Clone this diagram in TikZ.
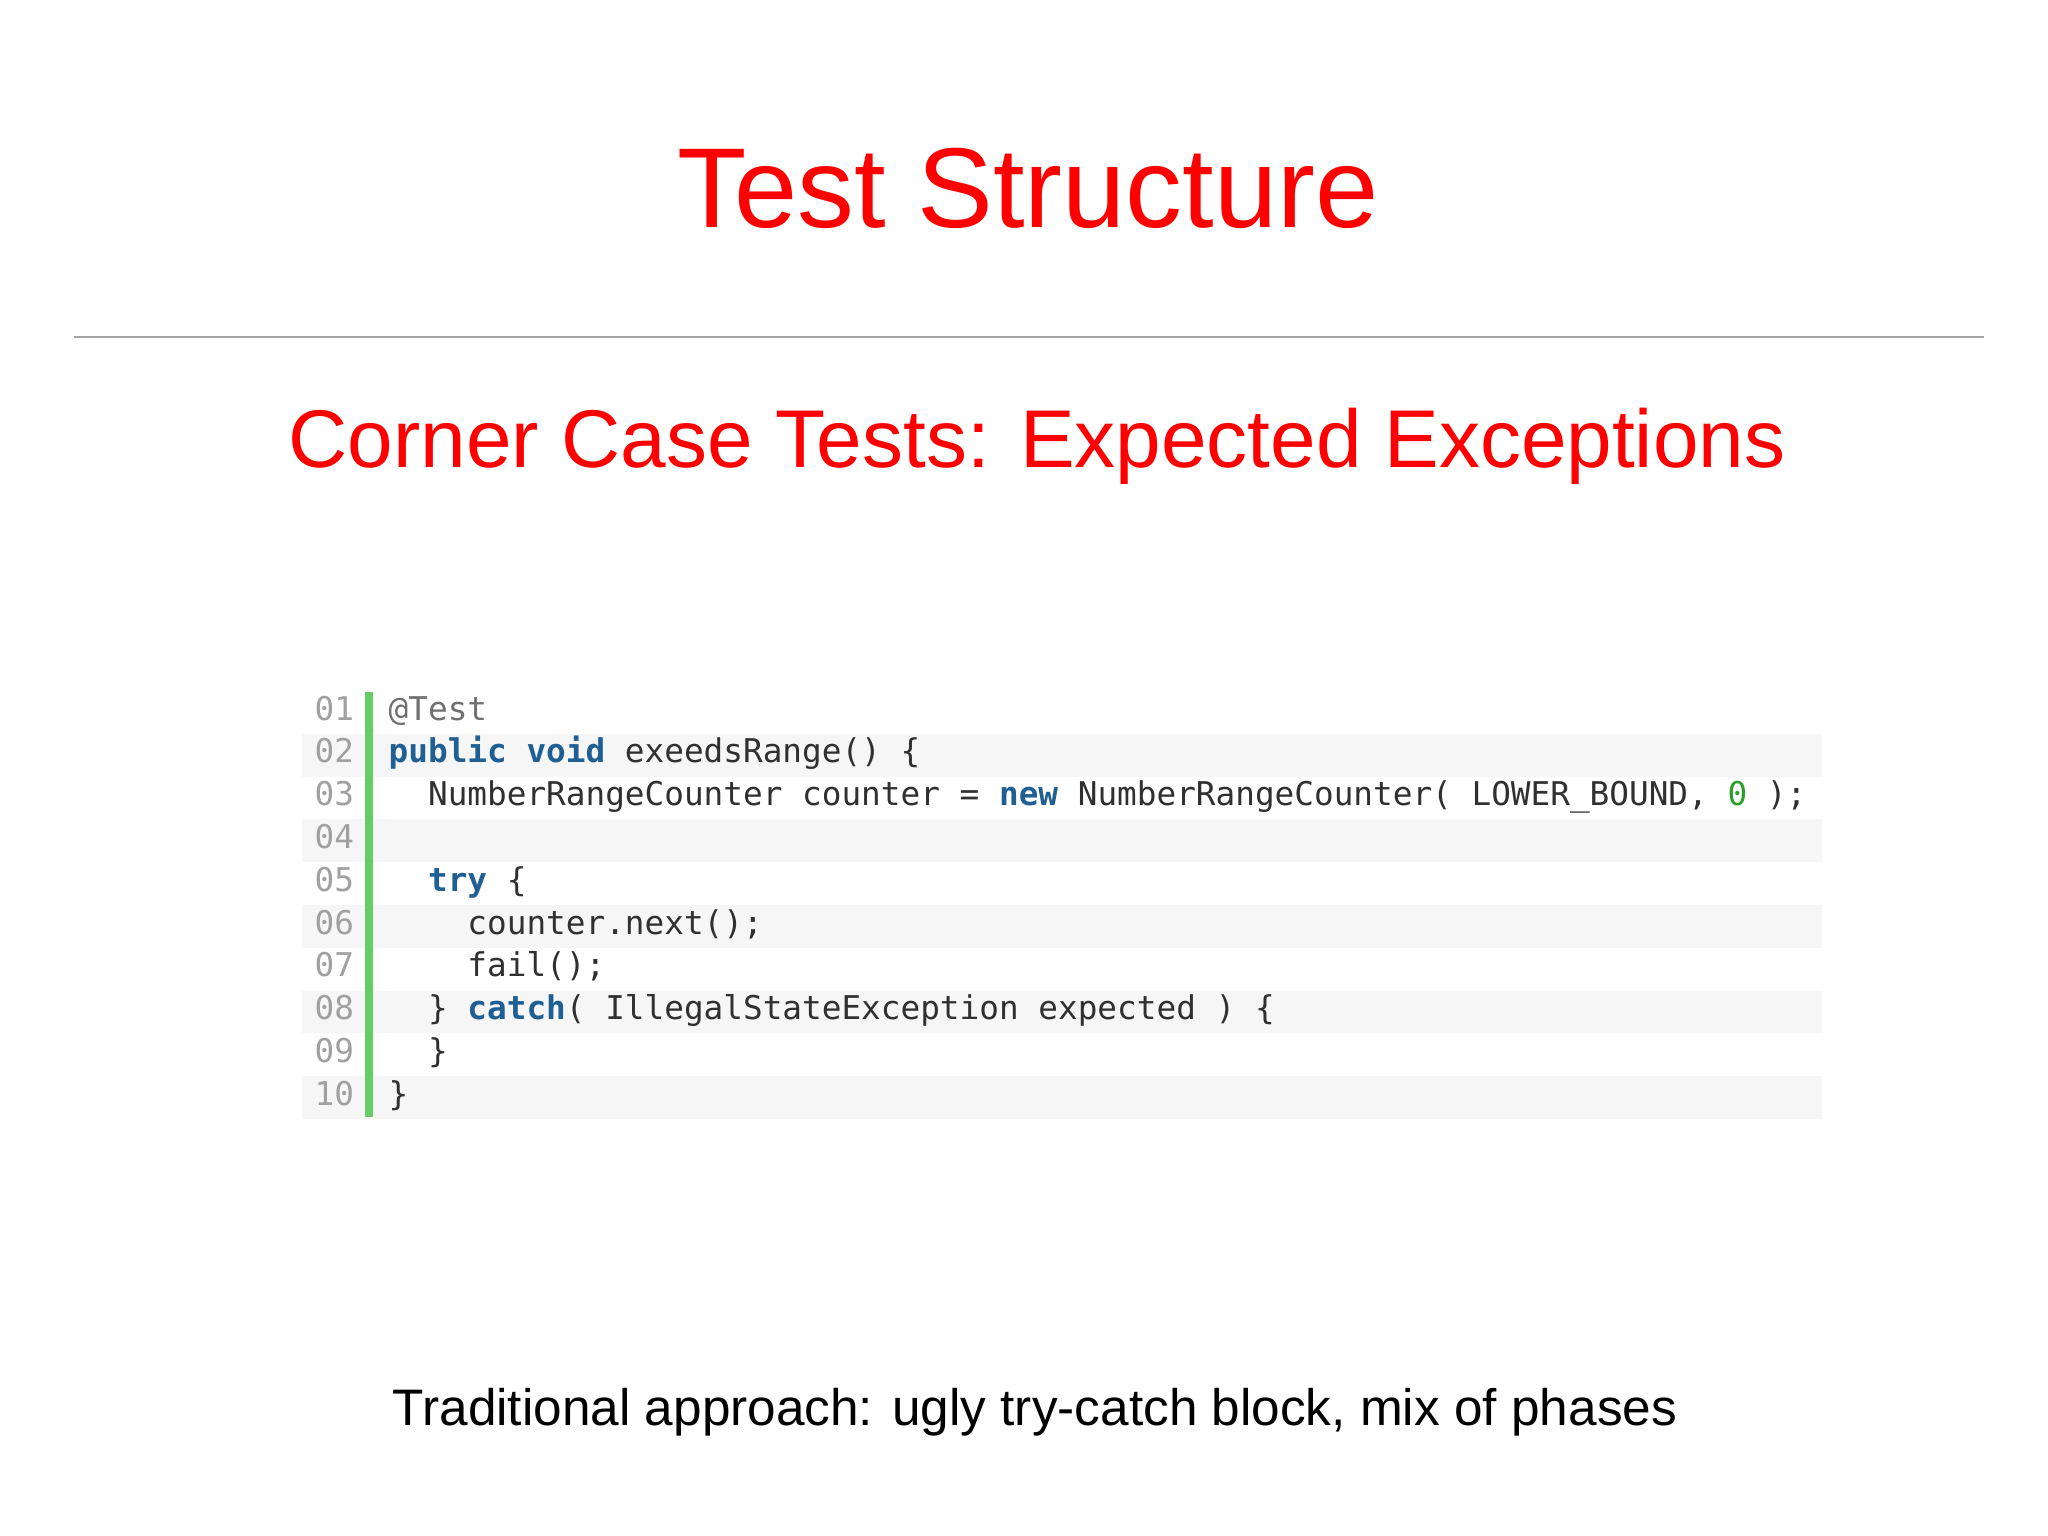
\documentclass[tikz,border=0pt]{standalone}
\usepackage{fontspec}
\setmainfont{Liberation Sans}
\newfontfamily\codefont{DejaVu Sans Mono}
\definecolor{kw}{HTML}{1F5F94}
\definecolor{txt}{HTML}{303030}
\definecolor{lnum}{HTML}{A0A0A0}
\definecolor{ann}{HTML}{707070}
\definecolor{num}{HTML}{2AA02A}
\definecolor{bar}{HTML}{66CC66}
\definecolor{stripe}{HTML}{F6F6F6}
\tikzset{
  codeline/.style={anchor=base west,inner sep=0pt,font=\codefont\fontsize{9.3pt}{11pt}\selectfont,text=txt},
  lnumtext/.style={anchor=base west,inner sep=0pt,font=\codefont\fontsize{9.3pt}{11pt}\selectfont,text=lnum},
}
\newcommand{\kwd}[1]{\textcolor{kw}{\bfseries #1}}
\begin{document}
\begin{tikzpicture}[x=0.01cm,y=-0.01cm]
\useasboundingbox (0,0) rectangle (2048,1535);
\fill[white] (0,0) rectangle (2048,1535);
\node[text=red,font=\fontsize{32.3pt}{36pt}\selectfont] (title) at (1028,188) {Test Structure};
\coordinate (rl) at (74,337); \coordinate (rr) at (1984,337);
\draw[gray!70,line width=0.4pt] (rl) -- (rr);
\node[text=red,font=\fontsize{23.3pt}{27pt}\selectfont] (sub) at (1037,446) {Corner Case Tests: Expected Exceptions};
\def\yy{720}
\foreach \i in {2,4,6,8,10}{
  \fill[stripe] (302,{\yy+(\i-1)*42.8-29}) rectangle (1822,{\yy+(\i-1)*42.8+13.8});
}
\coordinate (bt) at (369,692); \coordinate (bb) at (369,1117);
\draw[bar,line width=2.2pt] (bt) -- (bb);
\foreach \i/\n in {1/01,2/02,3/03,4/04,5/05,6/06,7/07,8/08,9/09,10/10}{
  \node[lnumtext] (n\i) at (314,{\yy+(\i-1)*42.8}) {\n};
}
\node[codeline,text=ann] (c1) at (388,\yy) {@Test};
\node[codeline] (c2) at (388,{\yy+42.8}) {\kwd{public} \kwd{void} exeedsRange() \{};
\node[codeline] (c3) at (388,{\yy+2*42.8}) {\ \ NumberRangeCounter counter = \kwd{new} NumberRangeCounter( LOWER\_BOUND, \textcolor{num}{0} );};
\node[codeline] (c5) at (388,{\yy+4*42.8}) {\ \ \kwd{try} \{};
\node[codeline] (c6) at (388,{\yy+5*42.8}) {\ \ \ \ counter.next();};
\node[codeline] (c7) at (388,{\yy+6*42.8}) {\ \ \ \ fail();};
\node[codeline] (c8) at (388,{\yy+7*42.8}) {\ \ \} \kwd{catch}( IllegalStateException expected ) \{};
\node[codeline] (c9) at (388,{\yy+8*42.8}) {\ \ \}};
\node[codeline] (c10) at (388,{\yy+9*42.8}) {\}};
\node[font=\fontsize{14.6pt}{17pt}\selectfont] (foot) at (1035,1412) {Traditional approach: ugly try-catch block, mix of phases};
\end{tikzpicture}
\end{document}
